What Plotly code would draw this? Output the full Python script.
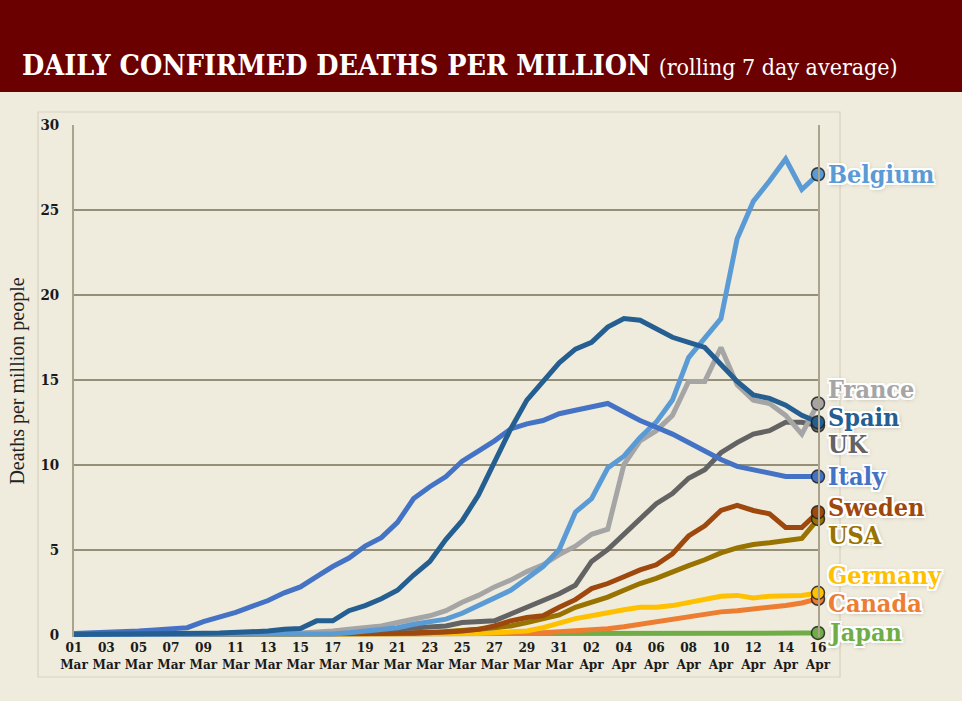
import pandas as pd
import plotly.graph_objects as go

# ---------------- data ----------------
dates = pd.date_range("2020-03-01", "2020-04-16", freq="D")

countries = ["Japan", "Canada", "Germany", "USA", "Sweden", "UK", "France", "Belgium", "Italy", "Spain"]

belgium = [0, 0, 0, 0, 0, 0, 0, 0, 0, 0, 0, 0, 0, 0, 0, 0, 0.03, 0.1, 0.2, 0.3, 0.4, 0.6, 0.73, 0.9,
           1.25, 1.7, 2.1, 2.6, 3.3, 4.0, 5.0, 7.2, 8.0, 9.8, 10.5, 11.6, 12.5, 13.8, 16.3, 17.4,
           18.6, 23.3, 25.5, 26.7, 28.0, 26.2, 27.1]
france = [0, 0, 0, 0, 0, 0, 0, 0, 0, 0.02, 0.03, 0.04, 0.05, 0.06, 0.08, 0.12, 0.2, 0.3, 0.4, 0.5,
          0.7, 0.9, 1.1, 1.4, 1.9, 2.3, 2.8, 3.2, 3.7, 4.1, 4.7, 5.2, 5.9, 6.2, 10.0, 11.4, 12.0,
          12.9, 14.9, 14.9, 16.9, 14.7, 13.8, 13.6, 12.9, 11.8, 13.6]
spain = [0, 0, 0, 0, 0.01, 0.02, 0.03, 0.05, 0.07, 0.08, 0.1, 0.15, 0.2, 0.3, 0.35, 0.8, 0.8, 1.4,
         1.7, 2.1, 2.6, 3.5, 4.3, 5.6, 6.7, 8.2, 10.1, 12.1, 13.8, 14.9, 16.0, 16.8, 17.2, 18.1,
         18.6, 18.5, 18.0, 17.5, 17.2, 16.9, 15.9, 14.9, 14.1, 13.9, 13.5, 12.9, 12.5]
uk = [0, 0, 0, 0, 0, 0, 0, 0, 0, 0, 0.01, 0.02, 0.03, 0.04, 0.05, 0.07, 0.1, 0.15, 0.2, 0.25, 0.3,
      0.35, 0.4, 0.5, 0.7, 0.75, 0.8, 1.2, 1.6, 2.0, 2.4, 2.9, 4.3, 5.0, 5.9, 6.9, 7.7, 8.3, 9.2,
      9.7, 10.7, 11.3, 11.8, 12.0, 12.5, 12.5, 12.3]
italy = [0.05, 0.07, 0.1, 0.15, 0.2, 0.27, 0.34, 0.4, 0.75, 1.0, 1.3, 1.65, 2.0, 2.45, 2.8, 3.4,
         4.0, 4.5, 5.2, 5.7, 6.6, 8.0, 8.7, 9.3, 10.2, 10.8, 11.4, 12.1, 12.4, 12.6, 13.0, 13.2,
         13.4, 13.6, 13.1, 12.6, 12.2, 11.8, 11.3, 10.8, 10.3, 9.9, 9.7, 9.5, 9.3, 9.3, 9.3]
sweden = [0, 0, 0, 0, 0, 0, 0, 0, 0, 0, 0, 0, 0, 0, 0, 0.02, 0.03, 0.04, 0.05, 0.06, 0.08, 0.09,
          0.1, 0.15, 0.2, 0.3, 0.5, 0.8, 1.0, 1.1, 1.6, 2.05, 2.7, 3.0, 3.4, 3.8, 4.1, 4.75, 5.8,
          6.4, 7.3, 7.6, 7.3, 7.1, 6.3, 6.3, 7.2]
usa = [0.02, 0.02, 0.02, 0.02, 0.02, 0.02, 0.02, 0.02, 0.02, 0.02, 0.02, 0.02, 0.02, 0.02, 0.02,
       0.02, 0.03, 0.03, 0.03, 0.04, 0.04, 0.05, 0.1, 0.15, 0.2, 0.3, 0.4, 0.5, 0.7, 0.9, 1.15,
       1.6, 1.9, 2.2, 2.6, 3.0, 3.3, 3.7, 4.05, 4.4, 4.8, 5.1, 5.3, 5.4, 5.5, 5.65, 6.8]
germany = [0, 0, 0, 0, 0, 0, 0, 0, 0, 0, 0, 0, 0, 0, 0, 0, 0, 0.01, 0.01, 0.02, 0.02, 0.03, 0.03,
           0.04, 0.04, 0.05, 0.1, 0.15, 0.2, 0.4, 0.65, 0.93, 1.1, 1.3, 1.45, 1.6, 1.6, 1.7, 1.9,
           2.1, 2.25, 2.3, 2.15, 2.25, 2.3, 2.3, 2.45]
canada = [0, 0, 0, 0, 0, 0, 0, 0, 0, 0, 0, 0, 0, 0, 0, 0, 0, 0, 0, 0, 0.01, 0.01, 0.01, 0.01,
          0.02, 0.02, 0.02, 0.03, 0.06, 0.1, 0.15, 0.22, 0.27, 0.34, 0.45, 0.6, 0.73, 0.85, 1.05,
          1.2, 1.33, 1.4, 1.5, 1.55, 1.7, 1.85, 2.1]
japan = [0.01, 0.01, 0.01, 0.01, 0.01, 0.01, 0.01, 0.01, 0.01, 0.01, 0.01, 0.01, 0.01, 0.01,
         0.01, 0.01, 0.01, 0.01, 0.01, 0.01, 0.01, 0.01, 0.01, 0.01, 0.01, 0.01, 0.01, 0.01, 0.01,
         0.01, 0.02, 0.02, 0.02, 0.02, 0.02, 0.03, 0.03, 0.03, 0.04, 0.04, 0.05, 0.05, 0.06, 0.06,
         0.07, 0.08, 0.09]

series = {"Belgium": belgium, "France": france, "Spain": spain, "UK": uk, "Italy": italy,
          "Sweden": sweden, "USA": usa, "Germany": germany, "Canada": canada, "Japan": japan}

y_ticks = [0, 5, 10, 15, 20, 25, 30]
tick_dates = list(dates[::2])
tick_labels = [f"{d:%d}<br>{d:%b}" for d in tick_dates]

# ---------------- style ----------------
colors = {"Belgium": "#5b9bd5", "France": "#a5a5a5", "Spain": "#255e91", "UK": "#636363",
          "Italy": "#4472c4", "Sweden": "#9e480e", "USA": "#997300", "Germany": "#ffc000",
          "Canada": "#ed7d31", "Japan": "#70ad47"}
# vertical nudge of the end labels (in axis units) so they do not collide
label_nudge = {"Belgium": 0.0, "France": 0.8, "Spain": 0.25, "UK": -1.1, "Italy": 0.0,
               "Sweden": 0.25, "USA": -1.0, "Germany": 1.0, "Canada": -0.3, "Japan": 0.0}

W, H = 962, 701
ML, MR, MT, MB = 74, 144, 125, 64
PW, PH = W - ML - MR, H - MT - MB


def px(xp):
    return (xp - ML) / PW


def py(yp):
    return (H - MB - yp) / PH


BG = "#f0ecdd"
SLAB = "DejaVu Serif Condensed, DejaVu Serif, serif"

fig = go.Figure()
for name in countries:
    vals = series[name]
    fig.add_trace(go.Scatter(x=dates, y=vals, mode="lines", name=name,
                             line=dict(color=colors[name], width=5), hoverinfo="skip"))

for name in countries:
    vals = series[name]
    fig.add_trace(go.Scatter(x=[dates[-1]], y=[vals[-1]], mode="markers", cliponaxis=False,
                             marker=dict(color=colors[name], size=13,
                                         line=dict(color="rgba(30,30,30,0.85)", width=1.5)),
                             hoverinfo="skip", showlegend=False))

annotations = []
for name in series:
    vals = series[name]
    annotations.append(dict(
        x=dates[-1], y=vals[-1] + label_nudge[name], xref="x", yref="y",
        text=f"<b>{name}</b>", showarrow=False, xanchor="left", yanchor="middle", xshift=8,
        font=dict(family=SLAB, size=25, color=colors[name],
                  shadow="2px 2px 0 #fff, -2px -2px 0 #fff, 2px -2px 0 #fff, -2px 2px 0 #fff, "
                         "0 2px 0 #fff, 0 -2px 0 #fff, 2px 0 0 #fff, -2px 0 0 #fff, 1px 1px 5px #888")))

annotations.append(dict(
    x=px(20), y=py(65), xref="paper", yref="paper", xanchor="left", yanchor="middle",
    showarrow=False,
    text="<b>DAILY CONFIRMED DEATHS PER MILLION</b> <span style='font-size:23px'>(rolling 7 day average)</span>",
    font=dict(family=SLAB, size=28.5, color="#ffffff")))

shapes = [
    dict(type="rect", xref="paper", yref="paper", x0=px(-5), x1=px(W + 5), y0=py(92), y1=py(-5),
         fillcolor="#6b0000", line=dict(width=0), layer="below"),
    dict(type="rect", xref="paper", yref="paper", x0=px(38), x1=px(840), y0=py(677), y1=py(112),
         fillcolor="rgba(0,0,0,0)", line=dict(color="#d8d2bf", width=1.2), layer="below"),
]

fig.update_layout(
    width=W, height=H, margin=dict(l=ML, r=MR, t=MT, b=MB),
    paper_bgcolor=BG, plot_bgcolor=BG, showlegend=False,
    annotations=annotations, shapes=shapes,
    xaxis=dict(range=[dates[0], dates[-1]], tickvals=tick_dates, ticktext=tick_labels,
               showgrid=False, zeroline=False, showline=False, ticks="",
               tickfont=dict(family=SLAB, size=13.5, color="#1a1a1a", weight="bold")),
    yaxis=dict(range=[-0.15, 30], tickvals=y_ticks, showgrid=True, gridcolor="#958f78",
               gridwidth=1.5, zeroline=False, showline=True, mirror=True, linecolor="#aaa48f",
               linewidth=1.5, ticks="", ticklabelstandoff=10,
               tickfont=dict(family=SLAB, size=15, color="#1a1a1a", weight="bold"),
               title=dict(text="Deaths per million people", standoff=10,
                          font=dict(family="Liberation Serif, DejaVu Serif, serif", size=20,
                                    color="#222"))),
)

fig.write_html("out.html", config={"displayModeBar": False},
               post_script="document.body.style.margin='0';document.body.style.background='" + BG + "';")
